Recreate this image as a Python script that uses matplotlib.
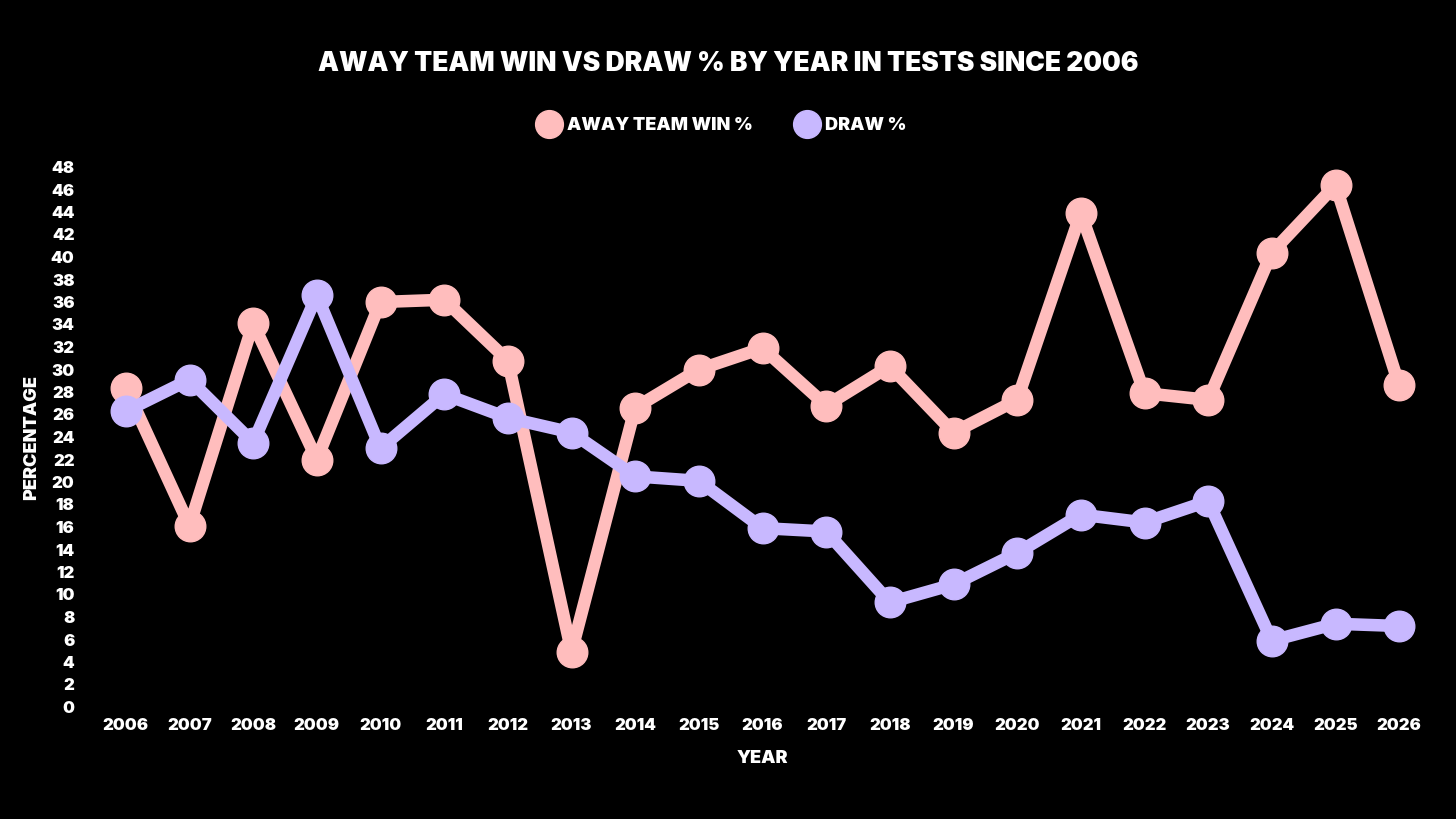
import matplotlib
matplotlib.use("Agg")
import matplotlib.pyplot as plt

years = list(range(2006, 2027))
away_win = [28.4, 16.1, 34.1, 22.0, 36.0, 36.2, 30.8, 4.9, 26.6, 30.0, 31.9,
            26.8, 30.3, 24.4, 27.3, 43.9, 27.9, 27.3, 40.4, 46.4, 28.6]
draw = [26.3, 29.1, 23.5, 36.6, 23.0, 27.8, 25.7, 24.4, 20.5, 20.1, 15.9,
        15.6, 9.3, 10.9, 13.7, 17.1, 16.4, 18.3, 5.9, 7.4, 7.2]
yticks = list(range(0, 49, 2))

PINK = "#FFBDBD"
LAV = "#C8B8FF"
FONT = ["Inter", "DejaVu Sans"]

fig = plt.figure(figsize=(14.56, 8.19), dpi=100, facecolor="black")
W, H = 1456, 819
ax = fig.add_axes([94 / W, 112 / H, (1431 - 94) / W, 540 / H], facecolor="black")

ax.plot(years, away_win, color=PINK, lw=9, marker="o", ms=22, solid_joinstyle="round",
        clip_on=False, zorder=3, label="AWAY TEAM WIN %")
ax.plot(years, draw, color=LAV, lw=9, marker="o", ms=22, solid_joinstyle="round",
        clip_on=False, zorder=3, label="DRAW %")

ax.set_xlim(2005.5, 2026.5)
ax.set_ylim(0, 48)
ax.set_xticks(years)
ax.set_xticklabels([str(y) for y in years], fontfamily=FONT, fontweight="black",
                   fontsize=12, color="white")
ax.set_yticks(yticks)
ax.set_yticklabels([str(v) for v in yticks], fontfamily=FONT, fontweight="black",
                   fontsize=12, color="white")
ax.tick_params(length=0)
ax.tick_params(axis="x", pad=8)
ax.tick_params(axis="y", pad=14)
for s in ax.spines.values():
    s.set_visible(False)

ax.set_xlabel("YEAR", fontfamily=FONT, fontweight="black", fontsize=13,
              color="white", labelpad=12)
ax.set_ylabel("PERCENTAGE", fontfamily=FONT, fontweight="black", fontsize=13,
              color="white", labelpad=8)

fig.text(0.5, 1 - 64 / H, "AWAY TEAM WIN VS DRAW % BY YEAR IN TESTS SINCE 2006",
         ha="center", va="center", fontfamily=FONT, fontweight="black",
         fontsize=19, color="white")

leg = fig.legend(loc="center", bbox_to_anchor=(0.5, 1 - 126 / H), ncol=2,
                 frameon=False, handlelength=0, handletextpad=1.0,
                 columnspacing=3.0, prop={"family": FONT, "weight": "black", "size": 13})
for h in leg.legend_handles:
    h.set_linestyle("none")
    h.set_markersize(20)
for t in leg.get_texts():
    t.set_color("white")

fig.savefig("out.png", dpi=100, facecolor="black")
